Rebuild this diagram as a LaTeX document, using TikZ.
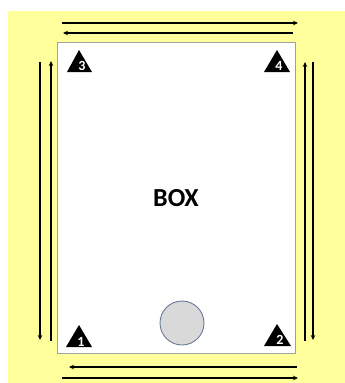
\documentclass[tikz,border=0pt]{standalone}
\usepackage{fontspec}
\setmainfont{Carlito}
\usetikzlibrary{arrows.meta}
\definecolor{bgyellow}{HTML}{FFFF9C}
\definecolor{boxline}{HTML}{A0A0A0}
\definecolor{circfill}{HTML}{D9D9D9}
\definecolor{circline}{HTML}{6B7A99}
\tikzset{
  flow/.style={line width=1.3pt, -{Stealth[length=5pt,width=4.5pt]}},
  tri/.style={fill=black},
  trinum/.style={text=white, font=\bfseries\fontsize{14}{14}\selectfont, inner sep=0pt},
}
\begin{document}
\begin{tikzpicture}[x=1pt,y=-1pt]
\useasboundingbox (0,0) rectangle (345,383);
\fill[bgyellow] (8,11) rectangle (345,383);
% main box
\node[draw=boxline, fill=white, line width=0.8pt, minimum width=238pt, minimum height=311pt, inner sep=0pt, anchor=north west] (box) at (57,42) {};
\node[font=\bfseries\fontsize{26}{26}\selectfont] (label) at (176,198) {BOX};
% circle
\node[circle, draw=circline, fill=circfill, line width=0.9pt, minimum size=44pt, inner sep=0pt] (disc) at (182,323) {};
% triangles
\fill[tri] (67,72) -- (79,50) -- (92,72) -- cycle;
\node[trinum] (t3) at (82,66) {3};
\fill[tri] (264,72) -- (277,50) -- (290,72) -- cycle;
\node[trinum] (t4) at (279,66) {4};
\fill[tri] (66,347) -- (79,325) -- (92,347) -- cycle;
\node[trinum] (t1) at (81,342) {1};
\fill[tri] (264,346) -- (277,324) -- (291,346) -- cycle;
\node[trinum] (t2) at (280,340) {2};
% arrow end coordinates
\coordinate (ta1) at (62,23);  \coordinate (tb1) at (298,23);
\coordinate (ta2) at (293,33); \coordinate (tb2) at (63,33);
\coordinate (ba1) at (297,367); \coordinate (bb1) at (69,367);
\coordinate (ba2) at (62,378);  \coordinate (bb2) at (298,378);
\coordinate (lo1) at (40,62);  \coordinate (lo2) at (40,340);
\coordinate (li1) at (51,341); \coordinate (li2) at (51,61);
\coordinate (ri1) at (305,341); \coordinate (ri2) at (305,62);
\coordinate (ro1) at (313,62); \coordinate (ro2) at (313,340);
\draw[flow] (ta1) -- (tb1);
\draw[flow] (ta2) -- (tb2);
\draw[flow] (ba1) -- (bb1);
\draw[flow] (ba2) -- (bb2);
\draw[flow] (lo1) -- (lo2);
\draw[flow] (li1) -- (li2);
\draw[flow] (ri1) -- (ri2);
\draw[flow] (ro1) -- (ro2);
\end{tikzpicture}
\end{document}
